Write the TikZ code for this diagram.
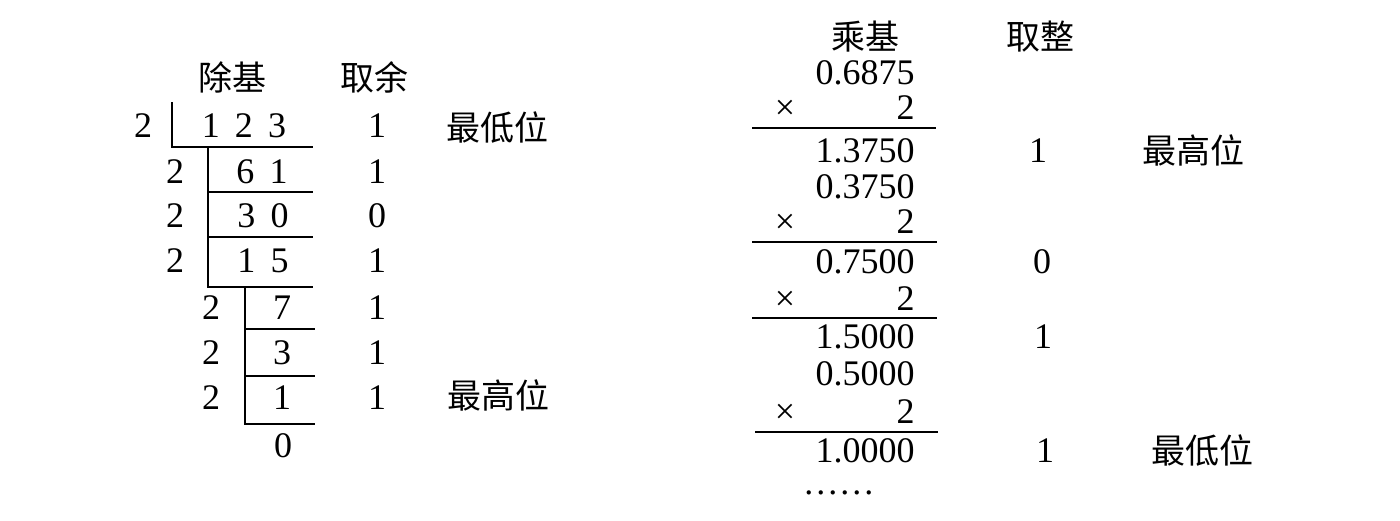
\documentclass[tikz,border=0pt]{standalone}
\usepackage{fontspec}
\setmainfont{Liberation Serif}
\newfontfamily\cjk{Noto Sans CJK SC}
\newcommand{\dgap}{\hspace{0.42em}}
\begin{document}
\begin{tikzpicture}[x=0.5pt,y=-0.5pt,
  num/.style={inner sep=0pt,font=\fontsize{18}{18}\selectfont},
  rnum/.style={num,anchor=east},
  hz/.style={inner sep=0pt,font=\cjk\fontsize{17}{17}\selectfont},
  rule/.style={line width=1.2pt}]
\useasboundingbox (0,0) rectangle (1400,520);
% ---------- left: division ----------
\node[hz] (hA) at (232,77) {除基};
\node[hz] (hB) at (374,77) {取余};
\node[num] (d1) at (143,126) {2};
\node[num] (q1) at (244,126) {1\dgap2\dgap3};
\node[num] (r1) at (377,126) {1};
\node[hz]  (lo) at (497,128) {最低位};
\node[num] (d2) at (175,172) {2};
\node[num] (q2) at (262,172) {6\dgap1};
\node[num] (r2) at (377,172) {1};
\node[num] (d3) at (175,216) {2};
\node[num] (q3) at (263,216) {3\dgap0};
\node[num] (r3) at (377,216) {0};
\node[num] (d4) at (175,261) {2};
\node[num] (q4) at (263,261) {1\dgap5};
\node[num] (r4) at (377,261) {1};
\node[num] (d5) at (211,308) {2};
\node[num] (q5) at (282,308) {7};
\node[num] (r5) at (377,308) {1};
\node[num] (d6) at (211,353) {2};
\node[num] (q6) at (282,353) {3};
\node[num] (r6) at (377,353) {1};
\node[num] (d7) at (211,398) {2};
\node[num] (q7) at (282,398) {1};
\node[num] (r7) at (377,398) {1};
\node[hz]  (hi) at (498,395) {最高位};
\node[num] (q8) at (283,446) {0};
\draw[rule] (172,102) -- (172,147) -- (313,147);
\draw[rule] (208,147) -- (208,287) -- (313,287);
\draw[rule] (208,192) -- (313,192);
\draw[rule] (208,237) -- (313,237);
\draw[rule] (245,287) -- (245,424) -- (315,424);
\draw[rule] (245,329) -- (315,329);
\draw[rule] (245,376) -- (315,376);
% ---------- right: multiplication ----------
\node[hz] (hC) at (865,37) {乘基};
\node[hz] (hD) at (1040,37) {取整};
\node[rnum] (m0) at (915,73) {0.6875};
\node[num] (x1) at (785,110) {×};
\node[rnum] (t1) at (915,108) {2};
\draw[rule] (752,128) -- (936,128);
\node[rnum] (p1) at (915,151) {1.3750};
\node[num] (i1) at (1038,151) {1};
\node[hz]  (rhi) at (1193,150) {最高位};
\node[rnum] (m1) at (915,187) {0.3750};
\node[num] (x2) at (785,224) {×};
\node[rnum] (t2) at (915,222) {2};
\draw[rule] (752,242) -- (937,242);
\node[rnum] (p2) at (915,262) {0.7500};
\node[num] (i2) at (1042,262) {0};
\node[num] (x3) at (785,301) {×};
\node[rnum] (t3) at (915,299) {2};
\draw[rule] (752,318) -- (937,318);
\node[rnum] (p3) at (915,337) {1.5000};
\node[num] (i3) at (1043,337) {1};
\node[rnum] (m3) at (915,374) {0.5000};
\node[num] (x4) at (785,414) {×};
\node[rnum] (t4) at (915,412) {2};
\draw[rule] (755,432) -- (938,432);
\node[rnum] (p4) at (915,451) {1.0000};
\node[num] (i4) at (1045,451) {1};
\node[hz]  (rlo) at (1202,451) {最低位};
\node[num,anchor=base west] (dots) at (804,494) {.\kern1.5pt.\kern1.5pt.\kern1.5pt.\kern1.5pt.\kern1.5pt.};
\end{tikzpicture}
\end{document}
